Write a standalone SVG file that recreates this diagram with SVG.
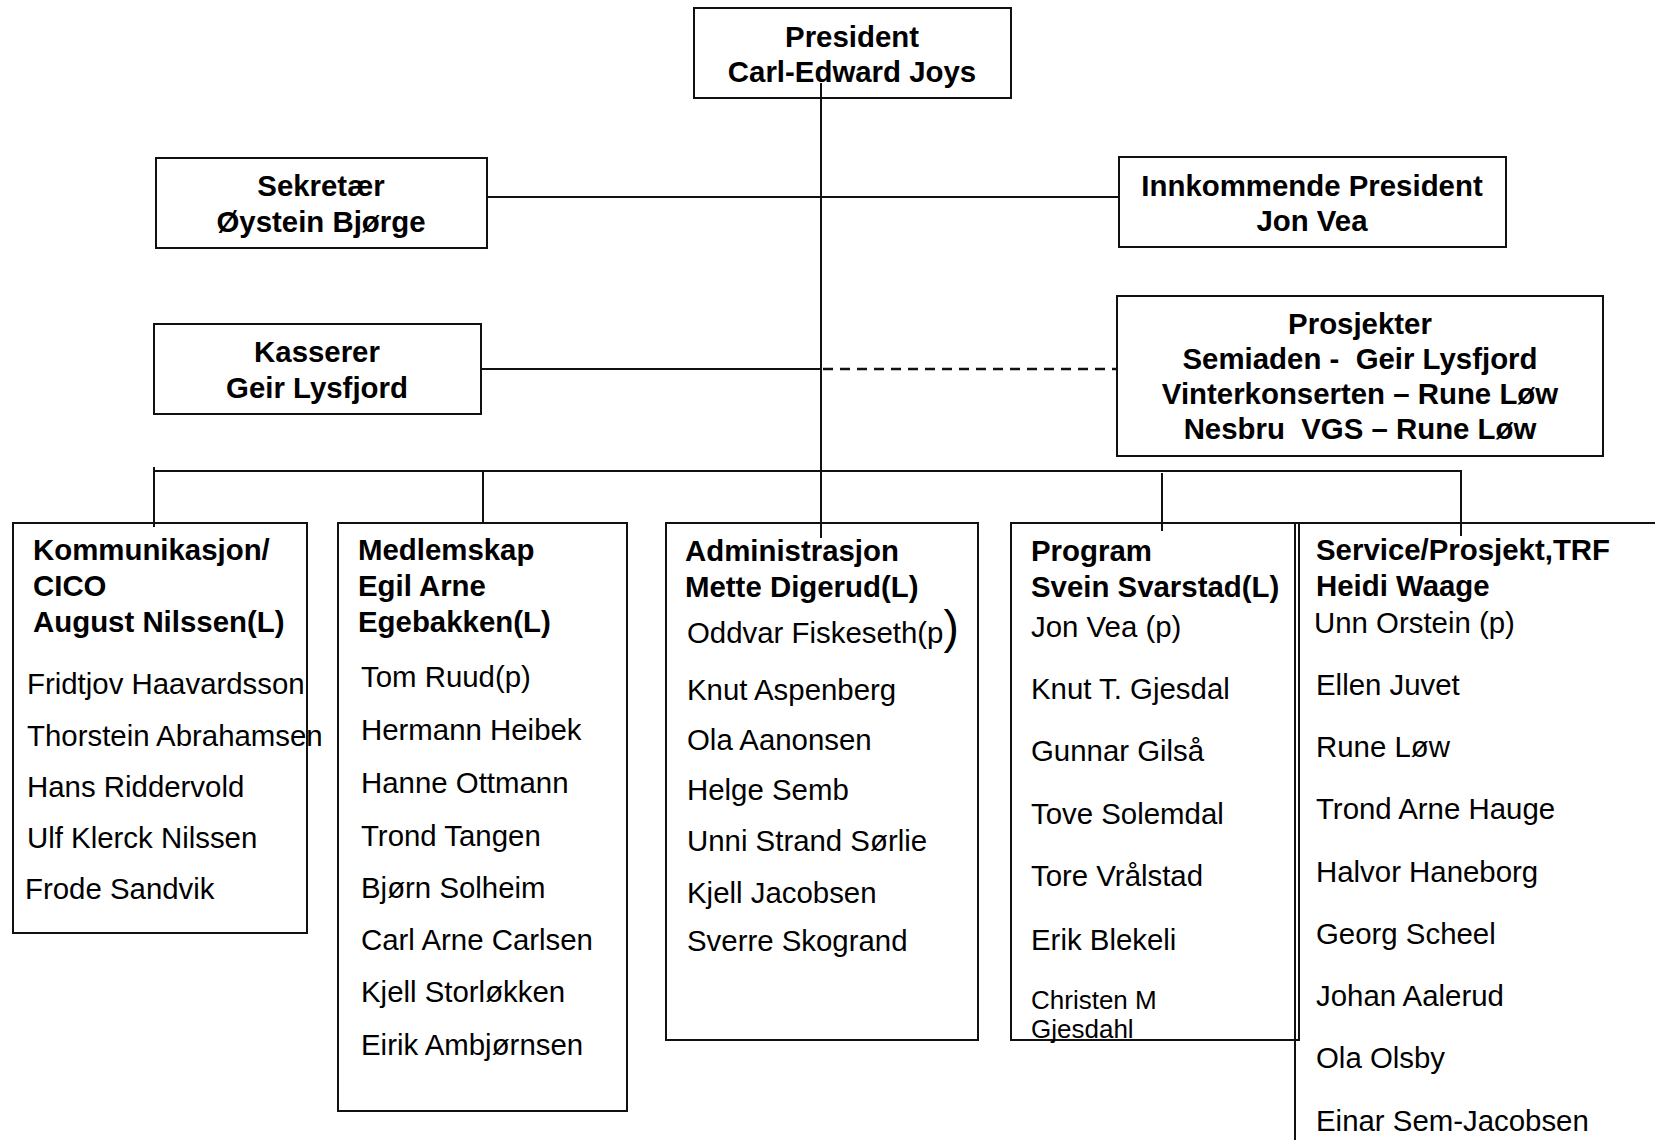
<svg xmlns="http://www.w3.org/2000/svg" width="1655" height="1140" viewBox="0 0 1655 1140">
<style>
text{font-family:"Liberation Sans",Arial,sans-serif;font-size:29.4px;fill:#000;white-space:pre}
.b{font-weight:bold}
.c{text-anchor:middle}
.sm{font-size:26px}
.big{font-size:46px}
.box{fill:none;stroke:#111;stroke-width:2}
.ln{fill:none;stroke:#111;stroke-width:2}
.dash{fill:none;stroke:#111;stroke-width:2.5;stroke-dasharray:10 7}
</style>
<rect width="1655" height="1140" fill="#fff"/>
<g id="connectors">
<path class="ln" d="M821 83V538"/>
<path class="ln" d="M487 197H1119"/>
<path class="ln" d="M481 369H821"/>
<path class="dash" d="M823 369H1116"/>
<path class="ln" d="M154 471H1461V536"/>
<path class="ln" d="M154 467V527"/>
<path class="ln" d="M483 471V523"/>
<path class="ln" d="M1162 473V531"/>
</g>
<g id="president">
<rect class="box" x="694" y="8" width="317" height="90"/>
<text class="b c" x="852" y="47">President</text>
<text class="b c" x="852" y="82">Carl-Edward Joys</text>
</g>
<g id="sekretaer">
<rect class="box" x="156" y="158" width="331" height="90"/>
<text class="b c" x="321" y="196">Sekretær</text>
<text class="b c" x="321" y="232">Øystein Bjørge</text>
</g>
<g id="innkommende">
<rect class="box" x="1119" y="157" width="387" height="90"/>
<text class="b c" x="1312" y="196">Innkommende President</text>
<text class="b c" x="1312" y="231">Jon Vea</text>
</g>
<g id="kasserer">
<rect class="box" x="154" y="324" width="327" height="90"/>
<text class="b c" x="317" y="362">Kasserer</text>
<text class="b c" x="317" y="398">Geir Lysfjord</text>
</g>
<g id="prosjekter">
<rect class="box" x="1117" y="296" width="486" height="160"/>
<text class="b c" x="1360" y="334">Prosjekter</text>
<text class="b c" x="1360" y="369">Semiaden -  Geir Lysfjord</text>
<text class="b c" x="1360" y="404">Vinterkonserten – Rune Løw</text>
<text class="b c" x="1360" y="439">Nesbru  VGS – Rune Løw</text>
</g>
<g id="kommunikasjon">
<rect class="box" x="13" y="523" width="294" height="410"/>
<text class="b" x="33" y="560">Kommunikasjon/</text>
<text class="b" x="33" y="596">CICO</text>
<text class="b" x="33" y="632">August Nilssen(L)</text>
<text x="27" y="694">Fridtjov Haavardsson</text>
<text x="27" y="746">Thorstein Abrahamsen</text>
<text x="27" y="797">Hans Riddervold</text>
<text x="27" y="848">Ulf Klerck Nilssen</text>
<text x="25" y="899">Frode Sandvik</text>
</g>
<g id="medlemskap">
<rect class="box" x="338" y="523" width="289" height="588"/>
<text class="b" x="358" y="560">Medlemskap</text>
<text class="b" x="358" y="596">Egil Arne</text>
<text class="b" x="358" y="632">Egebakken(L)</text>
<text x="361" y="687">Tom Ruud(p)</text>
<text x="361" y="740">Hermann Heibek</text>
<text x="361" y="793">Hanne Ottmann</text>
<text x="361" y="846">Trond Tangen</text>
<text x="361" y="898">Bjørn Solheim</text>
<text x="361" y="950">Carl Arne Carlsen</text>
<text x="361" y="1002">Kjell Storløkken</text>
<text x="361" y="1055">Eirik Ambjørnsen</text>
</g>
<g id="administrasjon">
<rect class="box" x="666" y="523" width="312" height="517"/>
<text class="b" x="685" y="561">Administrasjon</text>
<text class="b" x="685" y="597">Mette Digerud(L)</text>
<text x="687" y="643">Oddvar Fiskeseth(p<tspan class="big">)</tspan></text>
<text x="687" y="700">Knut Aspenberg</text>
<text x="687" y="750">Ola Aanonsen</text>
<text x="687" y="800">Helge Semb</text>
<text x="687" y="851">Unni Strand Sørlie</text>
<text x="687" y="903">Kjell Jacobsen</text>
<text x="687" y="951">Sverre Skogrand</text>
</g>
<g id="program">
<rect class="box" x="1011" y="523" width="288" height="517"/>
<text class="b" x="1031" y="561">Program</text>
<text class="b" x="1031" y="597">Svein Svarstad(L)</text>
<text x="1031" y="637">Jon Vea (p)</text>
<text x="1031" y="699">Knut T. Gjesdal</text>
<text x="1031" y="761">Gunnar Gilså</text>
<text x="1031" y="824">Tove Solemdal</text>
<text x="1031" y="886">Tore Vrålstad</text>
<text x="1031" y="950">Erik Blekeli</text>
<text class="sm" x="1031" y="1009">Christen M</text>
<text class="sm" x="1031" y="1038">Gjesdahl</text>
</g>
<g id="service">
<path class="ln" d="M1295 1140V523H1655"/>
<text class="b" x="1316" y="560">Service/Prosjekt,TRF</text>
<text class="b" x="1316" y="596">Heidi Waage</text>
<text x="1314" y="633">Unn Orstein (p)</text>
<text x="1316" y="695">Ellen Juvet</text>
<text x="1316" y="757">Rune Løw</text>
<text x="1316" y="819">Trond Arne Hauge</text>
<text x="1316" y="882">Halvor Haneborg</text>
<text x="1316" y="944">Georg Scheel</text>
<text x="1316" y="1006">Johan Aalerud</text>
<text x="1316" y="1068">Ola Olsby</text>
<text x="1316" y="1131">Einar Sem-Jacobsen</text>
</g>
</svg>
